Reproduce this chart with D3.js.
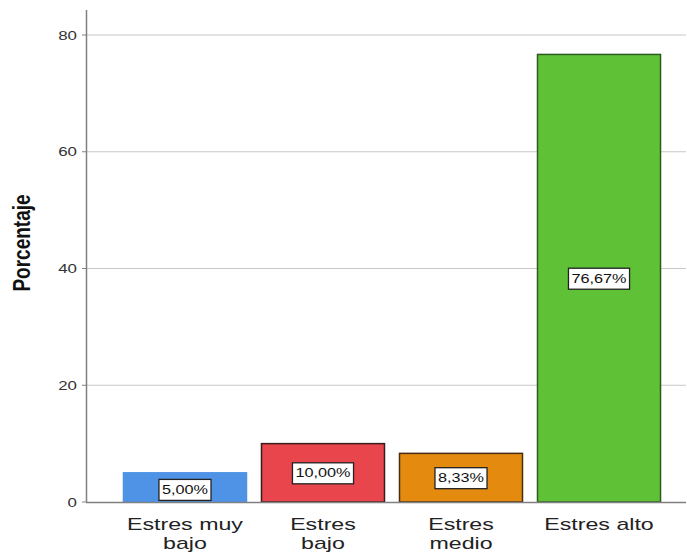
<!DOCTYPE html>
<html><head><meta charset="utf-8">
<script src="https://cdn.jsdelivr.net/npm/d3@7"></script>
<style>body{margin:0;background:#fff}</style>
</head><body>
<svg id="c" width="687" height="556"></svg>
<script>
const categories = [["Estres muy","bajo"],["Estres","bajo"],["Estres","medio"],["Estres alto"]];
const values = [5.00, 10.00, 8.33, 76.67];
const valueLabels = ["5,00%","10,00%","8,33%","76,67%"];
const yTicks = [0,20,40,60,80];
const fills = ["#4f93e6","#e8464c","#e38a0f","#5fc236"];
const strokes = ["#4f93e6","#3b1c1c","#4a2c12","#2d5a1e"];

const FONT = "Liberation Sans, Arial, sans-serif";
const SX = 1.3; // horizontal stretch of the text in the reference

const svg = d3.select("#c");
const x = d3.scaleBand().domain(d3.range(categories.length)).range([86, 698]).paddingInner(14/138).paddingOuter(0.268);
const y = d3.scaleLinear().domain([0,80]).range([502,35]);

// grid
svg.selectAll("line.grid").data(yTicks.filter(d=>d>0)).enter().append("line")
  .attr("x1",86).attr("x2",686).attr("y1",d=>y(d)).attr("y2",d=>y(d))
  .attr("stroke","#c8c8c8").attr("stroke-width",1);

// bars
svg.selectAll("rect.bar").data(values).enter().append("rect")
  .attr("x",(d,i)=>x(i)+0.5).attr("width",x.bandwidth()-1)
  .attr("y",d=>y(d)).attr("height",d=>y(0)-y(d))
  .attr("fill",(d,i)=>fills[i]).attr("stroke",(d,i)=>strokes[i]).attr("stroke-width",1.5);

// axes lines
svg.append("line").attr("x1",86.5).attr("x2",86.5).attr("y1",10).attr("y2",502).attr("stroke","#808080").attr("stroke-width",1.5);
svg.append("line").attr("x1",86).attr("x2",686).attr("y1",502.5).attr("y2",502.5).attr("stroke","#808080").attr("stroke-width",1.5);

// y ticks
const ya = svg.append("g");
ya.selectAll("line").data(yTicks).enter().append("line")
  .attr("x1",82).attr("x2",86).attr("y1",d=>y(d)).attr("y2",d=>y(d)).attr("stroke","#808080");
ya.selectAll("text").data(yTicks).enter().append("text")
  .attr("transform",d=>`translate(77,${y(d)}) scale(${SX},1)`).attr("dy","0.35em").attr("text-anchor","end")
  .attr("font-family",FONT).attr("font-size",13).attr("fill","#333")
  .text(d=>d);

// y title
svg.append("text").attr("transform","translate(30,243) rotate(-90) scale(1,1.25)").attr("text-anchor","middle")
  .attr("font-family",FONT).attr("font-size",19).attr("font-weight","bold").attr("fill","#111")
  .text("Porcentaje");

// x labels
categories.forEach((lines,i)=>{
  const cx = x(i)+x.bandwidth()/2;
  lines.forEach((l,j)=>{
    svg.append("text").attr("text-anchor","middle")
      .attr("transform",`translate(${cx},${530+j*18.5}) scale(1.45,1)`)
      .attr("font-family",FONT).attr("font-size",16).attr("fill","#222").text(l);
  });
});

// value labels
values.forEach((v,i)=>{
  const cx = x(i)+x.bandwidth()/2;
  const cy = (y(v)+y(0))/2 + (i===0?2:0);
  const g = svg.append("g");
  const t = g.append("text").attr("transform",`translate(${cx},${cy}) scale(1.25,1)`).attr("dy","0.35em").attr("text-anchor","middle")
    .attr("font-family",FONT).attr("font-size",13).attr("fill","#111").text(valueLabels[i]);
  const w = t.node().getBBox().width*1.25;
  g.insert("rect","text").attr("x",cx-w/2-3).attr("y",cy-10).attr("width",w+6).attr("height",21)
    .attr("fill","#fff").attr("stroke","#222").attr("stroke-width",1.3);
});
</script>
</body></html>
